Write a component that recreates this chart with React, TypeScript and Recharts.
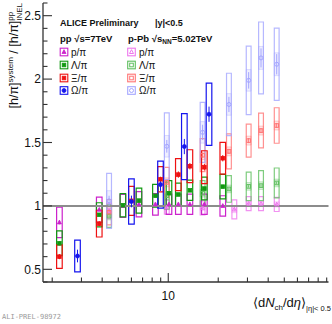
import React from "react";
import {
  ComposedChart,
  Scatter,
  XAxis,
  YAxis,
  ErrorBar,
  ReferenceArea,
  ReferenceLine,
} from "recharts";

const FONT = "'Liberation Sans', Arial, Helvetica, sans-serif";
const FRAME = "#333";

// pp, sqrt(s) = 7 TeV (multiplicity classes)
const ppX = [2.21, 3.84, 5.33, 6.66, 8.37, 10.1, 11.5, 13.5, 16.5, 21.3];
const ppProtonY = [0.87, 0.97, 1.0, 1.013, 1.013, 1.013, 1.013, 1.013, 1.013, 1.0];
const ppProtonStat = [0.015, 0.01, 0.01, 0.01, 0.01, 0.01, 0.01, 0.01, 0.01, 0.01];
const ppProtonSys = [0.12, 0.1, 0.09, 0.1, 0.085, 0.08, 0.08, 0.08, 0.08, 0.08];
const ppLambdaY = [0.705, 0.93, 1.005, 1.042, 1.08, 1.1, 1.09, 1.123, 1.137, 1.152];
const ppLambdaStat = [0.015, 0.01, 0.01, 0.01, 0.01, 0.01, 0.01, 0.01, 0.01, 0.01];
const ppLambdaSys = [0.098, 0.095, 0.092, 0.099, 0.09, 0.1, 0.09, 0.08, 0.09, 0.097];
const ppXiX = [2.21, 3.84, 6.0, 8.98, 11.5, 13.5, 16.5, 21.3];
const ppXiY = [0.6, 0.86, 1.04, 1.21, 1.247, 1.313, 1.305, 1.376];
const ppXiStat = [0.02, 0.02, 0.02, 0.02, 0.025, 0.025, 0.025, 0.025];
const ppXiSys = [0.092, 0.105, 0.114, 0.1, 0.126, 0.13, 0.13, 0.125];
const ppOmegaX = [2.84, 6.0, 8.98, 12.5, 17.6];
const ppOmegaY = [0.605, 1.035, 1.168, 1.468, 1.723];
const ppOmegaStat = [0.05, 0.046, 0.05, 0.06, 0.06];
const ppOmegaSys = [0.125, 0.178, 0.185, 0.26, 0.245];

// p-Pb, sqrt(s_NN) = 5.02 TeV
const pPbX = [4.4, 9.8, 16.1, 23.2, 30.5, 36.2, 45];
const pPbProtonX = [4.4, 9.8, 16.1, 25.0, 30.5, 36.2, 45];
const pPbProtonY = [0.96, 0.99, 0.985, 0.972, 1.018, 1.018, 1.012];
const pPbProtonStat = [0.01, 0.01, 0.01, 0.01, 0.01, 0.01, 0.01];
const pPbProtonSys = [0.06, 0.055, 0.055, 0.075, 0.055, 0.055, 0.056];
const pPbProtonUnc = [0.02, 0.02, 0.02, 0.025, 0.02, 0.02, 0.02];
const pPbLambdaY = [0.92, 1.08, 1.1, 1.134, 1.154, 1.16, 1.181];
const pPbLambdaStat = [0.01, 0.01, 0.01, 0.01, 0.01, 0.01, 0.01];
const pPbLambdaSys = [0.09, 0.105, 0.1, 0.105, 0.112, 0.118, 0.118];
const pPbLambdaUnc = [0.03, 0.03, 0.03, 0.03, 0.03, 0.03, 0.03];
const pPbXiY = [0.95, 1.186, 1.4, 1.43, 1.515, 1.594, 1.634];
const pPbXiStat = [0.02, 0.02, 0.02, 0.02, 0.02, 0.02, 0.02];
const pPbXiSys = [0.1, 0.118, 0.13, 0.138, 0.13, 0.137, 0.14];
const pPbXiUnc = [0.035, 0.035, 0.035, 0.035, 0.035, 0.035, 0.035];
const pPbOmegaY = [1.04, 1.47, 1.58, 1.8, 1.99, 2.167, 2.117];
const pPbOmegaStat = [0.04, 0.05, 0.06, 0.06, 0.065, 0.075, 0.08];
const pPbOmegaSys = [0.217, 0.263, 0.237, 0.246, 0.27, 0.283, 0.285];
const pPbOmegaUnc = [0.08, 0.085, 0.085, 0.085, 0.085, 0.09, 0.09];

// axis ticks
const xTicks = [2, 3, 4, 5, 6, 7, 8, 9, 10, 20, 30, 40, 50, 60, 70, 80, 90];
const xLabels = [10];
const yTicks = [
  0.4, 0.5, 0.6, 0.7, 0.8, 0.9, 1.0, 1.1, 1.2, 1.3, 1.4, 1.5, 1.6, 1.7, 1.8,
  1.9, 2.0, 2.1, 2.2, 2.3, 2.4, 2.5, 2.6,
];
const yLabels = [0.5, 1, 1.5, 2, 2.5];

const legendNames = ["p/\u03c0", "\u039b/\u03c0", "\u039e/\u03c0", "\u03a9/\u03c0"];
const ppColors = ["#cc22cc", "#119911", "#ee1111", "#1515ee"];
const pPbColors = ["#ee77ee", "#5fbf5f", "#ff7575", "#a4a6ff"];
const markerKinds = ["triangle", "square", "square", "circle"];

type Series = {
  key: string;
  xs: number[];
  ys: number[];
  stat: number[];
  sys: number[];
  unc?: number[];
  color: string;
  kind: string;
  filled: boolean;
};

const pPbSeries: Series[] = [
  { key: "pPbP", xs: pPbProtonX, ys: pPbProtonY, stat: pPbProtonStat, sys: pPbProtonSys, unc: pPbProtonUnc, color: pPbColors[0], kind: markerKinds[0], filled: false },
  { key: "pPbL", xs: pPbX, ys: pPbLambdaY, stat: pPbLambdaStat, sys: pPbLambdaSys, unc: pPbLambdaUnc, color: pPbColors[1], kind: markerKinds[1], filled: false },
  { key: "pPbXi", xs: pPbX, ys: pPbXiY, stat: pPbXiStat, sys: pPbXiSys, unc: pPbXiUnc, color: pPbColors[2], kind: markerKinds[2], filled: false },
  { key: "pPbO", xs: pPbX, ys: pPbOmegaY, stat: pPbOmegaStat, sys: pPbOmegaSys, unc: pPbOmegaUnc, color: pPbColors[3], kind: markerKinds[3], filled: false },
];

const ppSeries: Series[] = [
  { key: "ppP", xs: ppX, ys: ppProtonY, stat: ppProtonStat, sys: ppProtonSys, color: ppColors[0], kind: markerKinds[0], filled: true },
  { key: "ppL", xs: ppX, ys: ppLambdaY, stat: ppLambdaStat, sys: ppLambdaSys, color: ppColors[1], kind: markerKinds[1], filled: true },
  { key: "ppXi", xs: ppXiX, ys: ppXiY, stat: ppXiStat, sys: ppXiSys, color: ppColors[2], kind: markerKinds[2], filled: true },
  { key: "ppO", xs: ppOmegaX, ys: ppOmegaY, stat: ppOmegaStat, sys: ppOmegaSys, color: ppColors[3], kind: markerKinds[3], filled: true },
];

const toRows = (s: Series) =>
  s.xs.map((x, i) => ({ x, y: s.ys[i], stat: s.stat[i], sys: s.sys[i], unc: s.unc ? s.unc[i] : 0 }));

// box half widths as a factor on the log axis
const PP_BOX = Math.pow(10, 2.8 / 166);
const PPB_BOX = Math.pow(10, 2.4 / 166);

function MarkerGlyph({ cx, cy, kind, color, filled }: any) {
  if (cx == null || cy == null) return null;
  const fill = filled ? color : "none";
  const sw = filled ? 0.8 : 1;
  if (kind === "circle") return <circle cx={cx} cy={cy} r={2} fill={fill} stroke={color} strokeWidth={sw} />;
  if (kind === "triangle")
    return (
      <polygon
        points={`${cx},${cy - 2.3} ${cx - 2},${cy + 1.5} ${cx + 2},${cy + 1.5}`}
        fill={fill}
        stroke={color}
        strokeWidth={sw}
      />
    );
  return <rect x={cx - 1.8} y={cy - 1.8} width={3.6} height={3.6} fill={fill} stroke={color} strokeWidth={sw} />;
}

const near = (a: number, list: number[]) => list.some((v) => Math.abs(v - a) < 1e-6);

const BottomTick = ({ x, y, payload }: any) => {
  const major = near(payload.value, xLabels);
  return (
    <g>
      <line x1={x} x2={x} y1={y} y2={y - (major ? 9 : 4.5)} stroke={FRAME} strokeWidth={1.1} />
      {major && (
        <text x={x} y={y + 18} textAnchor="middle" fontSize={12} fontFamily={FONT} fill="#111">
          {payload.value}
        </text>
      )}
    </g>
  );
};

const TopTick = ({ x, y, payload }: any) => {
  const major = near(payload.value, xLabels);
  return <line x1={x} x2={x} y1={y} y2={y + (major ? 9 : 4.5)} stroke={FRAME} strokeWidth={1.1} />;
};

const LeftTick = ({ x, y, payload }: any) => {
  const major = near(payload.value, yLabels);
  return (
    <g>
      <line x1={x} x2={x + (major ? 9 : 4.5)} y1={y} y2={y} stroke={FRAME} strokeWidth={1.1} />
      {major && (
        <text x={x - 2} y={y + 4.2} textAnchor="end" fontSize={12} fontFamily={FONT} fill="#111">
          {payload.value}
        </text>
      )}
    </g>
  );
};

const RightTick = ({ x, y, payload }: any) => {
  const major = near(payload.value, yLabels);
  return <line x1={x} x2={x - (major ? 9 : 4.5)} y1={y} y2={y} stroke={FRAME} strokeWidth={1.1} />;
};

function renderBoxes(s: Series, half: number, light: boolean) {
  return toRows(s).flatMap((r, i) => {
    const out = [
      <ReferenceArea
        key={`${s.key}-sys-${i}`}
        x1={r.x / half}
        x2={r.x * half}
        y1={r.y - r.sys}
        y2={r.y + r.sys}
        fill="none"
        stroke={s.color}
        strokeWidth={1.2}
        strokeOpacity={light ? 0.8 : 1}
        ifOverflow="visible"
      />,
    ];
    if (r.unc > 0) {
      out.push(
        <ReferenceArea
          key={`${s.key}-unc-${i}`}
          x1={r.x / half}
          x2={r.x * half}
          y1={r.y - r.unc}
          y2={r.y + r.unc}
          fill={s.color}
          fillOpacity={0.18}
          stroke={s.color}
          strokeOpacity={0.45}
          strokeWidth={0.8}
          ifOverflow="visible"
        />
      );
    }
    return out;
  });
}

function renderScatter(s: Series) {
  return (
    <Scatter
      key={s.key}
      data={toRows(s)}
      dataKey="y"
      isAnimationActive={false}
      shape={(p: any) => <MarkerGlyph cx={p.cx} cy={p.cy} kind={s.kind} color={s.color} filled={s.filled} />}
    >
      <ErrorBar dataKey="stat" direction="y" width={0} stroke={s.color} strokeWidth={1} />
    </Scatter>
  );
}

const legendRows = [52, 65, 78, 90.5];

function LegendMarker({ cx, cy, color, kind, filled }: any) {
  return (
    <g>
      <rect x={cx - 3.8} y={cy - 3.8} width={7.6} height={7.6} fill="none" stroke={color} strokeWidth={1.1} />
      <MarkerGlyph cx={cx} cy={cy} kind={kind} color={color} filled={filled} />
    </g>
  );
}

function Overlay() {
  return (
    <svg
      width={332}
      height={324}
      style={{ position: "absolute", left: 0, top: 0, pointerEvents: "none" }}
      fontFamily={FONT}
    >
      <text x={60} y={26} fontSize={9} fontWeight="bold" fill="#111">ALICE Preliminary</text>
      <text x={155} y={26} fontSize={9} fontWeight="bold" fill="#111">|y|&lt;0.5</text>
      <text x={60} y={42} fontSize={9.5} fontWeight="bold" fill="#111">pp  {"\u221a"}s=7TeV</text>
      <text x={128} y={42} fontSize={9.5} fontWeight="bold" fill="#111">
        p-Pb  {"\u221a"}s<tspan fontSize={6.5} dy={2}>NN</tspan><tspan dy={-2}>=5.02TeV</tspan>
      </text>
      {legendNames.map((n, i) => (
        <g key={n}>
          <LegendMarker cx={64} cy={legendRows[i]} color={ppColors[i]} kind={markerKinds[i]} filled />
          <text x={71} y={legendRows[i] + 3.5} fontSize={10} fill="#111">{n}</text>
          <LegendMarker cx={131.5} cy={legendRows[i]} color={pPbColors[i]} kind={markerKinds[i]} filled={false} />
          <text x={139} y={legendRows[i] + 3.5} fontSize={10} fill="#111">{n}</text>
        </g>
      ))}
      <text x={-3} y={18} transform="rotate(-90)" textAnchor="end" fontSize={12.5} fill="#111">
        [h/{"\u03c0"}]<tspan fontSize={8} dy={-5}>system</tspan>
        <tspan dy={5}> / [h/{"\u03c0"}]</tspan>
        <tspan fontSize={8} dy={-5}>pp</tspan>
        <tspan fontSize={8} dx={-9} dy={9}>INEL</tspan>
      </text>
      <text x={331} y={307} textAnchor="end" fontSize={13} fill="#111">
        {"\u27e8"}d<tspan fontStyle="italic">N</tspan>
        <tspan fontSize={8} dy={3}>ch</tspan>
        <tspan dy={-3}>/d</tspan>
        <tspan fontStyle="italic">{"\u03b7"}</tspan>
        {"\u27e9"}
        <tspan fontSize={7.5} dy={4}>|{"\u03b7"}|&lt; 0.5</tspan>
      </text>
      <text x={2} y={319} fontSize={7} fontFamily="'DejaVu Sans Mono', monospace" fill="#9a9a9a">
        ALI-PREL-98972
      </text>
    </svg>
  );
}

export default function App() {
  return (
    <div style={{ position: "absolute", left: 0, top: 0, width: 332, height: 324, background: "#fff" }}>
      <ComposedChart width={332} height={324} margin={{ top: 3, right: 3.5, bottom: 0, left: 0 }}>
        <XAxis
          xAxisId={0}
          dataKey="x"
          type="number"
          scale="log"
          domain={[1.76, 92.3]}
          allowDataOverflow
          ticks={xTicks}
          interval={0}
          height={42}
          tickSize={0}
          tickMargin={0}
          tickLine={false}
          tick={<BottomTick />}
          axisLine={{ stroke: FRAME, strokeWidth: 1.3 }}
        />
        <XAxis
          xAxisId="top"
          orientation="top"
          dataKey="x"
          type="number"
          scale="log"
          domain={[1.76, 92.3]}
          allowDataOverflow
          ticks={xTicks}
          interval={0}
          height={0}
          tickSize={0}
          tickMargin={0}
          tickLine={false}
          tick={<TopTick />}
          axisLine={{ stroke: FRAME, strokeWidth: 1.3 }}
        />
        <YAxis
          yAxisId={0}
          dataKey="y"
          type="number"
          domain={[0.4, 2.6]}
          allowDataOverflow
          ticks={yTicks}
          interval={0}
          width={43}
          tickSize={0}
          tickMargin={0}
          tickLine={false}
          tick={<LeftTick />}
          axisLine={{ stroke: FRAME, strokeWidth: 1.3 }}
        />
        <YAxis
          yAxisId="right"
          orientation="right"
          type="number"
          domain={[0.4, 2.6]}
          allowDataOverflow
          ticks={yTicks}
          interval={0}
          width={0}
          tickSize={0}
          tickMargin={0}
          tickLine={false}
          tick={<RightTick />}
          axisLine={{ stroke: FRAME, strokeWidth: 1.3 }}
        />
        {pPbSeries.flatMap((s) => renderBoxes(s, PPB_BOX, true))}
        {ppSeries.flatMap((s) => renderBoxes(s, PP_BOX, false))}
        <ReferenceLine y={1} stroke="#8c8c8c" strokeWidth={2} />
        {pPbSeries.map(renderScatter)}
        {ppSeries.map(renderScatter)}
      </ComposedChart>
      <Overlay />
    </div>
  );
}
